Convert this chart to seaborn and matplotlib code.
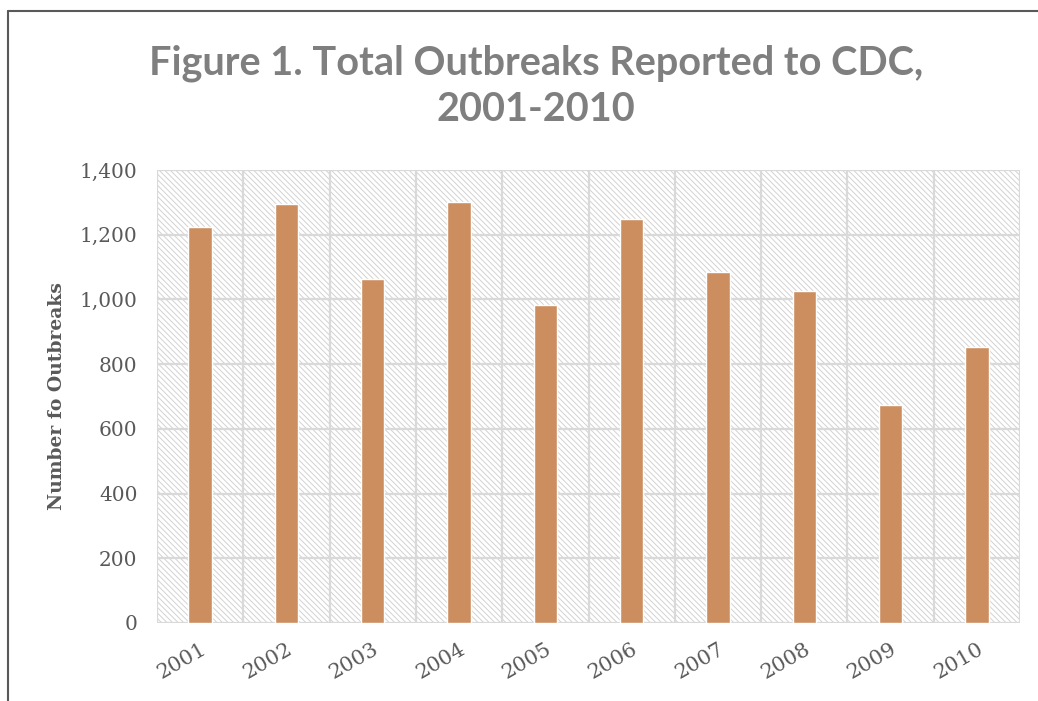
import matplotlib
matplotlib.use("Agg")
import matplotlib.pyplot as plt
from matplotlib.patches import Rectangle
from matplotlib.lines import Line2D
from matplotlib.ticker import FuncFormatter, MultipleLocator
import seaborn as sns
import pandas as pd

years = ["2001", "2002", "2003", "2004", "2005", "2006", "2007", "2008", "2009", "2010"]
outbreaks = [1223, 1296, 1062, 1301, 982, 1248, 1086, 1026, 673, 853]

sns.set_theme(style="white")
plt.rcParams["hatch.color"] = "#d2d2d2"
plt.rcParams["hatch.linewidth"] = 0.7

df = pd.DataFrame({"Year": years, "Outbreaks": outbreaks})

fig = plt.figure(figsize=(10.38, 7.01), dpi=100)
ax = fig.add_axes([157 / 1038, 78 / 701, (1020 - 157) / 1038, (623 - 170) / 701])

# hatched plot-area background
ax.add_patch(Rectangle((0, 0), 1, 1, transform=ax.transAxes, facecolor="white",
                       edgecolor="#d2d2d2", hatch="\\" * 6, lw=0, zorder=0))

sns.barplot(data=df, x="Year", y="Outbreaks", color="#cd8e5f", saturation=1,
            width=0.27, ax=ax, zorder=3)

ax.set_ylim(0, 1400)
ax.set_xlim(-0.5, len(years) - 0.5)
ax.yaxis.set_major_locator(MultipleLocator(200))
ax.yaxis.set_major_formatter(FuncFormatter(lambda v, p: f"{int(v):,}"))

# gridlines on category boundaries and value ticks
for b in range(len(years) + 1):
    ax.axvline(b - 0.5, color="#d9d9d9", lw=1.6, zorder=1)
for v in range(0, 1401, 200):
    ax.axhline(v, color="#d9d9d9", lw=1.6, zorder=1)
for s in ax.spines.values():
    s.set_visible(False)

ax.tick_params(axis="both", length=0, colors="#595959")
ax.tick_params(axis="y", pad=14)
for lbl in ax.get_yticklabels():
    lbl.set_fontfamily("DejaVu Serif")
    lbl.set_fontsize(14.5)
ax.set_xticks(range(len(years)))
ax.set_xticklabels(years, rotation=30, ha="right", rotation_mode="anchor",
                   fontfamily="DejaVu Serif", fontsize=15, color="#595959")
ax.tick_params(axis="x", pad=12)

ax.set_xlabel("")
ax.set_ylabel("Number fo Outbreaks", fontfamily="DejaVu Serif", fontweight="bold",
              fontsize=13.5, color="#595959", labelpad=10)

fig.text(536 / 1038, 1 - 86 / 701, "Figure 1. Total Outbreaks Reported to CDC,\n2001-2010",
         ha="center", va="center", fontsize=28.5, fontweight="bold", family="Lato",
         color="#7f7f7f", linespacing=1.3)

# outer frame (left and top edges)
fig.add_artist(Line2D([8 / 1038, 8 / 1038], [0, 1 - 11 / 701], color="#595959", lw=1.5,
                      transform=fig.transFigure))
fig.add_artist(Line2D([8 / 1038, 1], [1 - 11 / 701, 1 - 11 / 701], color="#595959", lw=1.5,
                      transform=fig.transFigure))

fig.savefig("out.png", dpi=100)
